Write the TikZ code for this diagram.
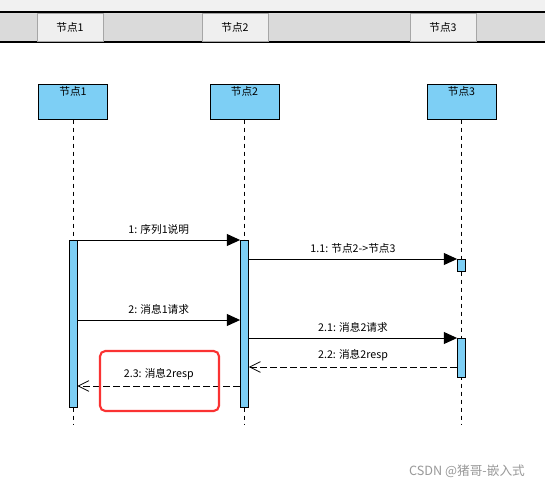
\documentclass[tikz,border=0pt]{standalone}
\usepackage{fontspec}
\setmainfont{Noto Sans CJK SC}
\usetikzlibrary{arrows.meta,positioning}
\definecolor{headblue}{RGB}{125,207,245}
\definecolor{bargray}{RGB}{218,218,218}
\definecolor{tabgray}{RGB}{239,239,239}
\definecolor{topgray}{RGB}{241,241,241}
\definecolor{markred}{RGB}{250,50,50}

\begin{document}
\begin{tikzpicture}[x=0.75pt, y=-0.75pt, font=\fontsize{8}{9.5}\selectfont,
        tab/.style={rectangle, draw=black!35, fill=tabgray, minimum width=49.5pt, minimum height=21pt, inner sep=0pt},
        head/.style={rectangle, draw=black, line width=0.75pt, fill=headblue, minimum width=51.75pt, minimum height=26.25pt, inner sep=0pt},
        act/.style={rectangle, draw=black, line width=0.6pt, fill=headblue, minimum width=6pt, inner sep=0pt},
        life/.style={black, line width=0.6pt, dash pattern=on 3.5pt off 2.5pt},
        msg/.style={-{Triangle[length=10pt, width=9pt]}, line width=0.75pt},
        reply/.style={-{Straight Barb[length=8pt, width=8pt]}, line width=0.6pt, dash pattern=on 5pt off 2.5pt},
        lbl/.style={above, inner sep=4pt}
    ]
    \useasboundingbox (0,0) rectangle (545,489);
    \fill[white] (0,0) rectangle (545,489);

    % tab bar at the top
    \fill[topgray] (0,0) rectangle (545,12);
    \fill[bargray] (0,12) rectangle (545,42);
    \draw[line width=0.8pt] (0,12) -- (545,12);
    \draw[line width=0.8pt] (0,42) -- (545,42);
    \node[tab] (t1) at (70,27) {节点1};
    \node[tab] (t2) at (235,27) {节点2};
    \node[tab] (t3) at (443,27) {节点3};

    % lifeline heads
    \node[head] (h1) at (73,101.5) {};
    \node[head] (h2) at (244.5,101.5) {};
    \node[head] (h3) at (461.5,101.5) {};
    \node[below=-1pt of h1.north] (n1) {节点1};
    \node[below=-1pt of h2.north] (n2) {节点2};
    \node[below=-1pt of h3.north] (n3) {节点3};

    \coordinate (e1) at (73,425);
    \coordinate (e2) at (244.5,425);
    \coordinate (e3) at (461.5,425);
    \draw[life] (h1.south) -- (e1);
    \draw[life] (h2.south) -- (e2);
    \draw[life] (h3.south) -- (e3);

    % activations
    \node[act, minimum height=125.25pt, anchor=north] (a1) at (73,240) {};
    \node[act, minimum height=125.25pt, anchor=north] (a2) at (244.5,240) {};
    \node[act, minimum height=9pt, anchor=north] (a3) at (461.5,259) {};
    \node[act, minimum height=29.25pt, anchor=north] (a4) at (461.5,338) {};

    % messages
    \coordinate (m2) at (0,320);
    \coordinate (m22) at (0,367);
    \coordinate (m23) at (0,386);
    \draw[msg] (a1.north east) -- node[lbl] (l1) {1: 序列1说明} (a2.north west);
    \draw[msg] (a3.north west -| a2.east) -- node[lbl] (l11) {1.1: 节点2->节点3} (a3.north west);
    \draw[msg] (m2 -| a1.east) -- node[lbl] (l2) {2: 消息1请求} (m2 -| a2.west);
    \draw[msg] (a4.north west -| a2.east) -- node[lbl] (l21) {2.1: 消息2请求} (a4.north west);
    \draw[reply] (m22 -| a4.west) -- node[lbl] (l22) {2.2: 消息2resp} (m22 -| a2.east);
    \draw[reply] (m23 -| a2.west) -- node[lbl] (l23) {2.3: 消息2resp} (m23 -| a1.east);

    % highlight
    \draw[markred, line width=1.6pt, rounded corners=4pt] (100,351) rectangle (219,411);

    \node[text=black!40, font=\fontsize{9.5}{11}\selectfont] (wm) at (467,471) {CSDN @猪哥-嵌入式};
\end{tikzpicture}
\end{document}
